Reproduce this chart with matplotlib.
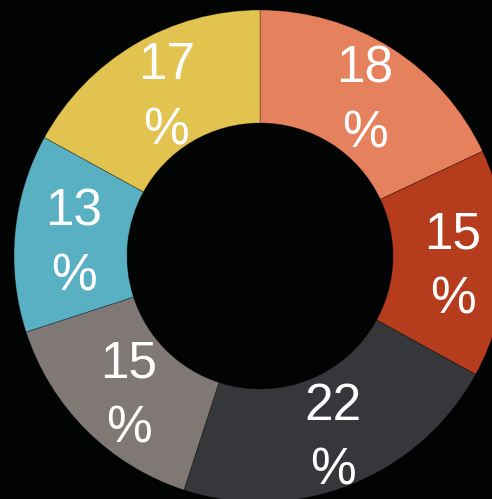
import numpy as np
import matplotlib
matplotlib.use("Agg")
import matplotlib.pyplot as plt

plt.rcParams["font.family"] = ["Liberation Sans", "DejaVu Sans"]

# =========================
# DATA
# =========================
values = [18, 15, 22, 15, 13, 17]
labels = ["18\n%", "15\n%", "22\n%", "15\n%", "13\n%", "17\n%"]
colors = ["#E5815D", "#B63C1E", "#35373A", "#807875", "#59B0C3", "#E3C350"]

# =========================
# DONUT
# =========================
fig = plt.figure(figsize=(4.92, 4.99), dpi=100)
fig.patch.set_facecolor("#020404")

ax = fig.add_axes([0, 0, 1, 1])
ax.set_facecolor("#020404")

center = (0, 0)
r_out = 246
r_in = 133

wedges, _ = ax.pie(
    values,
    colors=colors,
    startangle=90,
    counterclock=False,
    radius=r_out,
    center=center,
    wedgeprops=dict(width=r_out - r_in, edgecolor=(0, 0, 0, 0.35), linewidth=0.6),
)

# label placement at the middle of each ring segment
r_lab = 190
total = sum(values)
cum = 0
for v, lab in zip(values, labels):
    mid = (cum + v / 2) / total * 360
    cum += v
    ang = np.deg2rad(90 - mid)
    ax.text(
        r_lab * np.cos(ang) + 3,
        r_lab * np.sin(ang) - 6,
        lab,
        ha="center",
        va="center",
        color="white",
        fontsize=37,
        linespacing=1.42,
    )

ax.set_xlim(-260, 232)
ax.set_ylim(-243, 256)
ax.set_aspect("equal")
ax.axis("off")

fig.savefig("out.png", dpi=100, facecolor=fig.get_facecolor())
